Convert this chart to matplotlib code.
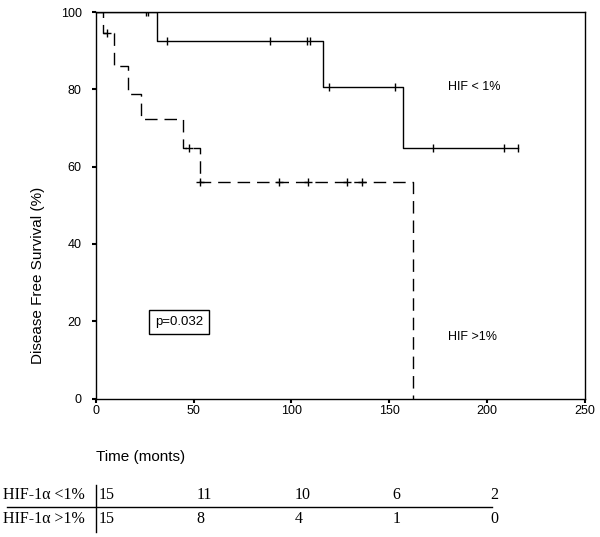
import matplotlib
matplotlib.use("Agg")
import matplotlib.pyplot as plt
from matplotlib.lines import Line2D
from matplotlib.transforms import blended_transform_factory

# Kaplan-Meier data
# HIF-1a < 1%
low_times = [0, 31.2, 115.9, 156.8, 215.7]
low_surv = [100, 92.6, 80.7, 64.7, 64.7]
low_cens_t = [25.7, 26.8, 36.5, 89.2, 108.2, 109.3, 119.3, 153.1, 172.4, 208.5, 215.7]
low_cens_s = [100, 100, 92.6, 92.6, 92.6, 92.6, 80.7, 80.7, 64.7, 64.7, 64.7]

# HIF-1a > 1%
high_times = [0, 3.6, 9.5, 16.7, 23.2, 44.8, 53.4, 162.0]
high_surv = [100, 94.5, 86.0, 78.8, 72.2, 64.7, 56.1, 0]
high_cens_t = [5.6, 47.7, 53.4, 93.4, 108.7, 128.6, 136.3]
high_cens_s = [94.5, 64.7, 56.1, 56.1, 56.1, 56.1, 56.1]

# numbers at risk
risk_times = [0, 50, 100, 150, 200]
risk_low = [15, 11, 10, 6, 2]
risk_high = [15, 8, 4, 1, 0]
risk_labels = ["HIF-1\u03b1 <1%", "HIF-1\u03b1 >1%"]

plt.rcParams['font.family'] = ['Liberation Sans', 'DejaVu Sans']
serif = ['Liberation Serif', 'DejaVu Serif']

fig = plt.figure(figsize=(6, 5.37), dpi=100)
ax = fig.add_axes([0.1595, 0.2579, 0.8155, 0.7197])

ax.step(low_times, low_surv, where='post', color='black', lw=1)
ax.plot(low_cens_t, low_cens_s, ls='none', marker='|', ms=6, mew=1, color='black')

ax.step(high_times, high_surv, where='post', color='black', lw=1, dashes=(9, 5))
ax.plot(high_cens_t, high_cens_s, ls='none', marker='|', ms=6, mew=1, color='black')
ax.plot(high_cens_t, high_cens_s, ls='none', marker='_', ms=6, mew=1, color='black')

ax.set_xlim(0, 250)
ax.set_ylim(0, 100)
ax.set_xticks([0, 50, 100, 150, 200, 250])
ax.set_yticks([0, 20, 40, 60, 80, 100])
ax.tick_params(direction='out', length=3, width=1.5, labelsize=9, pad=2)
ax.tick_params(axis='y', pad=7)
for s in ax.spines.values():
    s.set_linewidth(1)

ax.text(193.5, 80.6, "HIF < 1%", fontsize=9, ha='center', va='center')
ax.text(192.5, 15.9, "HIF >1%", fontsize=9, ha='center', va='center')
ax.text(42.5, 19.7, "p=0.032", fontsize=9.5, ha='center', va='center',
        bbox=dict(boxstyle='square,pad=0.45', fc='white', ec='black', lw=1))

fig.text(0.0633, 0.488, "Disease Free Survival (%)", rotation=90,
         fontsize=11, ha='center', va='center')

# below-axis text, x in data units, y in figure units
tr = blended_transform_factory(ax.transData, fig.transFigure)
ax.text(0, 0.1496, "Time (monts)", transform=tr, fontsize=11,
        ha='left', va='center', clip_on=False)

row_y = [0.0782, 0.0335]
for yy, lab, vals in zip(row_y, risk_labels, [risk_low, risk_high]):
    fig.text(0.0055, yy, lab, fontsize=11.5, family=serif, ha='left', va='center')
    for t, v in zip(risk_times, vals):
        ax.text(t + 1.5, yy, str(v), transform=tr, fontsize=11.5, family=serif,
                ha='left', va='center', clip_on=False)

fig.add_artist(Line2D([0.011, 0.8195], [0.0564, 0.0564], color='black', lw=1))
fig.add_artist(Line2D([0, 0], [0.0099, 0.0968], transform=tr, color='black', lw=1))

fig.savefig('out.png', dpi=100)
